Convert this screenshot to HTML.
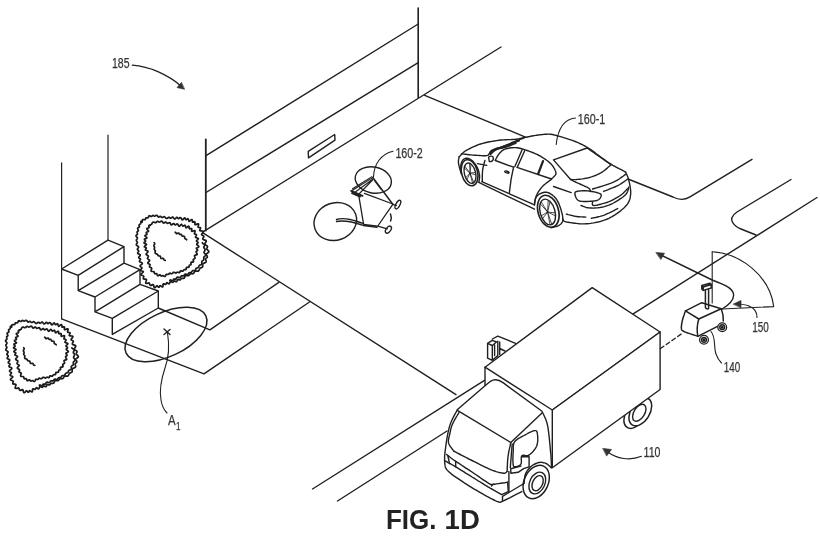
<!DOCTYPE html>
<html><head><meta charset="utf-8"><title>FIG. 1D</title>
<style>
html,body{margin:0;padding:0;background:#fff;}
body{width:820px;height:539px;overflow:hidden;font-family:"Liberation Sans",sans-serif;}
svg{display:block;}
svg .ln *{vector-effect:none;}
</style></head><body>
<svg width="820" height="539" viewBox="0 0 820 539">
<rect width="820" height="539" fill="#fff"/>
<g class="ln" fill="none" stroke="#202020" stroke-width="1.4" stroke-linecap="round" stroke-linejoin="round">
<path d="M205.8 139.4 V230.5" stroke-width="1.8"/>
<path d="M206 155.7 L418.2 24 M206 192.5 L418.2 62.6 M202.2 232.4 L501 47"/>
<path d="M418.2 8 V97.5" stroke-width="1.6"/>
<path d="M61.6 162.8 V318.8 M108 135 V240" stroke-width="1.2"/>
<path d="M308.2 151.3 L334.7 134.5 L335 140.1 L308.5 157.8 Z"/>
<path d="M424.7 95.4 L526 137.3"/>
<path d="M202.2 232.4 L456 394.6"/>
<path d="M312.5 489 L484.5 380.3"/>
<path d="M337.5 501 L447 431"/>
<path d="M632.8 314.1 L817 197.5"/>
<path d="M628 179 L673 197 Q682 201.8 690 196.8 L752 159.3"/>
<path d="M791 179.5 L737 212 Q729 217.5 733 223 Q735 226.5 741 229 L756 235"/>
<path d="M278.8 282.4 L209.9 329.9 L158.3 308"/>
<path d="M309.5 302 L204 373.8 L61.6 318.8"/>
<path d="M108.0 240.2 L124.0 246.6 L78.2 275.3 L61.6 269.0 Z M124 246.6 V263.2 L78.2 290.6 V275.3 M124 263.2 L140 269.6 L95 297 L78.2 290.6 M140 269.6 V284.4 L95 311.8 V297 M140 284.4 L158.3 291 L112.3 318.4 L95 311.8 M158.3 291 V308 L112.3 334.4 V318.4"/>
<g id="bush" stroke-width="1.7" stroke="#1a1a1a"><path d="M142.1 222.1 L142.2 221.7 L142.2 221.3 L142.3 220.8 L142.3 220.3 L142.5 219.9 L142.7 219.7 L143.1 219.5 L143.6 219.5 L144.1 219.6 L144.5 219.7 L144.9 219.6 L145.2 219.5 L145.4 219.1 L145.6 218.7 L145.7 218.3 L145.9 218.0 L146.2 217.8 L146.6 217.8 L147.1 217.8 L147.5 217.9 L147.9 217.8 L148.2 217.7 L148.4 217.3 L148.5 216.9 L148.7 216.4 L148.9 216.0 L149.2 215.8 L149.6 215.7 L150.1 215.9 L150.5 216.2 L150.9 216.4 L151.3 216.5 L151.6 216.4 L151.9 216.2 L152.2 215.9 L152.5 215.6 L152.9 215.4 L153.3 215.4 L153.6 215.6 L154.0 215.9 L154.3 216.1 L154.6 216.2 L155.0 216.1 L155.3 215.9 L155.7 215.6 L156.1 215.4 L156.5 215.3 L156.9 215.3 L157.2 215.6 L157.5 215.9 L157.7 216.3 L158.0 216.7 L158.3 217.0 L158.7 217.1 L159.0 217.0 L159.4 216.8 L159.8 216.5 L160.2 216.4 L160.6 216.4 L160.9 216.6 L161.2 216.9 L161.5 217.1 L161.8 217.4 L162.2 217.5 L162.5 217.5 L162.9 217.3 L163.3 217.1 L163.7 216.9 L164.0 216.7 L164.4 216.7 L164.7 216.8 L165.0 217.1 L165.4 217.4 L165.7 217.8 L166.0 218.1 L166.3 218.4 L166.7 218.5 L167.1 218.4 L167.4 218.3 L167.8 218.0 L168.1 217.7 L168.5 217.4 L168.9 217.3 L169.2 217.3 L169.6 217.5 L169.9 217.8 L170.2 218.1 L170.6 218.2 L170.9 218.2 L171.3 217.9 L171.7 217.6 L172.0 217.3 L172.4 217.1 L172.7 217.1 L173.1 217.3 L173.4 217.7 L173.7 218.1 L174.1 218.5 L174.4 218.9 L174.7 219.0 L175.1 218.9 L175.5 218.6 L175.8 218.2 L176.2 217.7 L176.6 217.4 L176.9 217.3 L177.3 217.5 L177.6 217.9 L177.9 218.3 L178.3 218.6 L178.6 218.6 L179.0 218.4 L179.3 218.1 L179.7 217.8 L180.1 217.6 L180.5 217.6 L180.8 217.8 L181.1 218.2 L181.4 218.7 L181.7 219.3 L182.0 219.7 L182.3 219.9 L182.7 219.8 L183.1 219.5 L183.5 219.0 L183.9 218.4 L184.3 218.0 L184.7 217.9 L185.0 218.2 L185.3 218.7 L185.6 219.2 L185.8 219.6 L186.2 219.7 L186.6 219.5 L187.0 219.2 L187.4 218.9 L187.8 218.7 L188.1 218.8 L188.4 219.3 L188.6 220.0 L188.8 220.6 L189.0 221.1 L189.2 221.3 L189.7 221.1 L190.2 220.7 L190.7 220.2 L191.3 219.7 L191.8 219.5 L192.1 219.7 L192.3 220.2 L192.4 220.9 L192.4 221.5 L192.5 222.0 L192.8 222.2 L193.3 222.1 L193.8 221.9 L194.3 221.7 L194.7 221.8 L195.0 222.1 L195.0 222.7 L194.9 223.3 L194.9 223.9 L194.9 224.4 L195.1 224.7 L195.6 224.6 L196.3 224.4 L197.0 224.1 L197.7 223.9 L198.3 223.8 L198.6 224.1 L198.6 224.6 L198.4 225.2 L198.3 225.9 L198.1 226.4 L198.1 226.9 L198.2 227.2 L198.5 227.4 L199.0 227.5 L199.5 227.5 L200.1 227.6 L200.5 227.7 L200.6 228.1 L200.5 228.6 L200.2 229.1 L199.9 229.7 L199.8 230.1 L199.8 230.5 L200.1 230.7 L200.6 230.8 L201.3 230.9 L202.0 231.0 L202.7 231.1 L203.2 231.3 L203.4 231.7 L203.3 232.1 L202.9 232.6 L202.5 233.1 L202.0 233.6 L201.7 234.1 L201.6 234.5 L201.7 234.8 L202.0 235.1 L202.4 235.3 L202.9 235.5 L203.3 235.8 L203.6 236.0 L203.8 236.4 L203.8 236.7 L203.6 237.1 L203.4 237.6 L203.1 238.0 L202.9 238.4 L202.8 238.8 L202.9 239.2 L203.2 239.5 L203.6 239.7 L204.2 239.9 L204.8 240.1 L205.3 240.2 L205.8 240.4 L206.1 240.7 L206.2 241.0 L206.2 241.4 L206.0 241.8 L205.7 242.3 L205.4 242.8 L205.1 243.3 L204.9 243.8 L204.8 244.2 L204.9 244.5 L205.2 244.8 L205.5 245.0 L206.0 245.2 L206.4 245.4 L206.8 245.6 L207.2 245.9 L207.4 246.2 L207.5 246.5 L207.5 246.9 L207.3 247.3 L207.1 247.7 L206.9 248.1 L206.8 248.5 L206.7 248.8 L206.8 249.2 L207.1 249.5 L207.4 249.8 L207.8 250.1 L208.2 250.5 L208.5 250.8 L208.7 251.2 L208.8 251.6 L208.8 251.9 L208.6 252.3 L208.2 252.6 L207.7 252.9 L207.3 253.2 L206.8 253.5 L206.5 253.8 L206.3 254.1 L206.3 254.5 L206.4 254.8 L206.6 255.2 L206.9 255.6 L207.1 256.0 L207.3 256.4 L207.3 256.8 L207.3 257.2 L207.1 257.5 L206.8 257.8 L206.4 258.0 L206.1 258.3 L205.9 258.6 L205.7 258.9 L205.6 259.2 L205.7 259.6 L205.8 260.0 L206.0 260.5 L206.1 260.9 L206.2 261.3 L206.1 261.7 L206.0 262.0 L205.7 262.3 L205.4 262.6 L205.0 262.8 L204.6 262.9 L204.1 263.1 L203.7 263.2 L203.4 263.4 L203.1 263.7 L202.9 263.9 L202.8 264.3 L202.7 264.6 L202.7 265.0 L202.7 265.5 L202.7 265.9 L202.7 266.3 L202.6 266.7 L202.4 267.0 L202.1 267.2 L201.8 267.4 L201.4 267.6 L201.1 267.7 L200.7 267.9 L200.4 268.0 L200.1 268.2 L199.8 268.5 L199.7 268.8 L199.5 269.1 L199.3 269.5 L199.2 269.8 L199.0 270.2 L198.8 270.5 L198.6 270.8 L198.3 271.0 L197.9 271.2 L197.6 271.2 L197.1 271.2 L196.7 271.2 L196.3 271.1 L195.9 271.1 L195.5 271.2 L195.2 271.3 L194.9 271.4 L194.6 271.7 L194.4 272.1 L194.2 272.4 L194.0 272.8 L193.7 273.1 L193.5 273.4 L193.2 273.6 L192.9 273.7 L192.5 273.8 L192.1 273.8 L191.7 273.7 L191.3 273.7 L191.0 273.7 L190.6 273.8 L190.3 274.0 L190.0 274.2 L189.8 274.5 L189.5 274.8 L189.3 275.1 L189.0 275.3 L188.7 275.5 L188.4 275.7 L188.0 275.7 L187.6 275.7 L187.2 275.6 L186.8 275.6 L186.4 275.5 L186.0 275.6 L185.7 275.7 L185.4 275.9 L185.1 276.2 L184.9 276.6 L184.8 277.0 L184.6 277.4 L184.4 277.8 L184.1 278.1 L183.9 278.3 L183.5 278.4 L183.1 278.4 L182.7 278.4 L182.3 278.4 L181.9 278.3 L181.5 278.4 L181.2 278.5 L181.0 278.8 L180.8 279.2 L180.5 279.5 L180.3 279.8 L180.0 280.0 L179.6 280.0 L179.2 279.9 L178.7 279.7 L178.3 279.5 L177.9 279.4 L177.6 279.6 L177.3 280.0 L177.2 280.5 L177.0 281.0 L176.7 281.5 L176.4 281.7 L176.0 281.7 L175.6 281.5 L175.2 281.2 L174.8 281.0 L174.4 280.9 L174.0 281.1 L173.8 281.3 L173.5 281.7 L173.2 282.0 L172.9 282.3 L172.6 282.3 L172.2 282.2 L171.8 282.0 L171.3 281.7 L170.9 281.5 L170.5 281.4 L170.2 281.6 L170.0 282.1 L169.8 282.7 L169.6 283.3 L169.3 283.7 L169.0 283.9 L168.6 283.8 L168.2 283.5 L167.7 283.1 L167.3 282.8 L166.8 282.7 L166.5 282.9 L166.3 283.3 L166.1 283.8 L165.9 284.2 L165.6 284.4 L165.2 284.4 L164.8 284.3 L164.3 284.1 L163.8 283.9 L163.4 283.9 L163.1 284.2 L163.0 284.7 L163.0 285.4 L163.0 286.1 L162.9 286.6 L162.6 286.9 L162.1 286.9 L161.6 286.5 L161.0 286.1 L160.5 285.7 L160.1 285.6 L159.9 285.8 L159.6 286.2 L159.4 286.8 L159.1 287.2 L158.7 287.3 L158.4 287.1 L158.0 286.7 L157.7 286.3 L157.4 285.9 L157.1 285.8 L156.7 285.9 L156.3 286.3 L155.9 286.8 L155.4 287.3 L154.9 287.7 L154.6 287.7 L154.2 287.5 L154.0 286.9 L153.8 286.3 L153.7 285.6 L153.5 285.0 L153.3 284.7 L152.9 284.5 L152.6 284.6 L152.1 284.9 L151.6 285.1 L151.1 285.4 L150.7 285.4 L150.3 285.4 L150.1 285.1 L149.9 284.7 L149.7 284.3 L149.6 283.8 L149.5 283.3 L149.3 283.1 L148.9 282.9 L148.5 283.0 L147.9 283.2 L147.3 283.3 L146.7 283.5 L146.2 283.4 L145.9 283.3 L145.7 282.9 L145.7 282.3 L145.9 281.7 L146.1 281.0 L146.3 280.4 L146.5 279.9 L146.4 279.5 L146.2 279.3 L145.8 279.2 L145.3 279.1 L144.6 279.1 L144.0 279.1 L143.6 278.9 L143.3 278.7 L143.3 278.3 L143.4 277.8 L143.5 277.3 L143.7 276.9 L143.8 276.4 L143.7 276.1 L143.4 275.9 L143.0 275.7 L142.5 275.5 L141.9 275.3 L141.4 275.1 L141.0 274.8 L140.9 274.5 L141.1 274.0 L141.5 273.5 L142.1 273.1 L142.7 272.6 L143.1 272.2 L143.3 271.8 L143.1 271.5 L142.6 271.2 L142.0 271.0 L141.4 270.7 L140.9 270.4 L140.6 270.1 L140.7 269.7 L141.0 269.3 L141.3 268.9 L141.7 268.6 L141.9 268.2 L141.9 267.8 L141.7 267.5 L141.4 267.2 L140.9 266.9 L140.5 266.6 L140.1 266.2 L140.1 265.9 L140.2 265.5 L140.6 265.1 L141.2 264.7 L141.7 264.3 L142.1 263.9 L142.3 263.5 L142.2 263.1 L141.9 262.8 L141.4 262.5 L140.8 262.3 L140.2 262.1 L139.8 261.8 L139.5 261.5 L139.5 261.2 L139.6 260.8 L139.9 260.3 L140.2 259.9 L140.4 259.5 L140.5 259.1 L140.3 258.8 L139.9 258.5 L139.5 258.3 L139.0 258.0 L138.8 257.7 L138.7 257.4 L138.9 257.0 L139.3 256.5 L139.7 256.1 L140.1 255.6 L140.2 255.2 L140.2 254.9 L139.9 254.6 L139.4 254.4 L138.9 254.1 L138.3 253.9 L137.9 253.6 L137.7 253.3 L137.6 252.9 L137.9 252.5 L138.2 252.1 L138.5 251.7 L138.7 251.3 L138.7 251.0 L138.5 250.6 L138.2 250.3 L137.8 250.0 L137.5 249.7 L137.4 249.4 L137.4 249.0 L137.7 248.6 L138.0 248.2 L138.3 247.8 L138.5 247.4 L138.6 247.1 L138.5 246.7 L138.2 246.4 L137.8 246.1 L137.4 245.9 L137.0 245.6 L136.6 245.3 L136.4 244.9 L136.3 244.6 L136.4 244.2 L136.6 243.8 L136.9 243.4 L137.2 243.1 L137.3 242.7 L137.4 242.3 L137.3 242.0 L137.1 241.7 L136.9 241.3 L136.6 241.0 L136.4 240.7 L136.4 240.3 L136.4 240.0 L136.6 239.6 L136.9 239.2 L137.1 238.9 L137.3 238.5 L137.4 238.2 L137.4 237.9 L137.2 237.5 L136.9 237.1 L136.5 236.8 L136.2 236.4 L136.1 236.0 L136.0 235.7 L136.2 235.3 L136.5 235.0 L136.9 234.7 L137.3 234.4 L137.5 234.1 L137.5 233.7 L137.4 233.4 L137.3 233.0 L137.1 232.6 L137.1 232.2 L137.1 231.9 L137.4 231.6 L137.7 231.3 L138.1 231.0 L138.3 230.7 L138.4 230.4 L138.2 230.0 L138.0 229.6 L137.8 229.1 L137.6 228.7 L137.6 228.3 L137.8 228.0 L138.2 227.8 L138.6 227.6 L139.0 227.3 L139.3 227.0 L139.4 226.7 L139.4 226.3 L139.2 225.9 L139.1 225.5 L139.1 225.1 L139.2 224.8 L139.4 224.5 L139.8 224.3 L140.2 224.1 L140.5 223.9 L140.7 223.6 L140.8 223.3 L140.8 222.9 L140.8 222.4 L140.8 221.9 L140.9 221.5 L141.1 221.2 Z" fill="#fff"/><path d="M149.9 224.9 L150.3 224.8 L150.7 224.7 L151.0 224.6 L151.3 224.4 L151.6 224.2 L151.8 223.9 L152.0 223.5 L152.1 223.1 L152.3 222.8 L152.6 222.4 L152.9 222.2 L153.2 222.1 L153.6 222.1 L154.1 222.2 L154.5 222.4 L154.9 222.6 L155.3 222.7 L155.6 222.7 L156.0 222.6 L156.3 222.4 L156.5 222.0 L156.9 221.7 L157.2 221.5 L157.5 221.4 L157.9 221.4 L158.3 221.6 L158.6 221.8 L159.0 222.0 L159.3 222.1 L159.6 222.1 L160.0 221.9 L160.4 221.7 L160.7 221.4 L161.1 221.2 L161.5 221.1 L161.9 221.2 L162.2 221.4 L162.5 221.8 L162.8 222.3 L163.0 222.7 L163.3 223.0 L163.7 223.1 L164.0 223.0 L164.4 222.8 L164.8 222.5 L165.3 222.2 L165.6 222.1 L166.0 222.1 L166.3 222.4 L166.6 222.7 L166.9 223.0 L167.2 223.3 L167.5 223.4 L167.9 223.3 L168.3 223.1 L168.7 222.9 L169.1 222.7 L169.5 222.6 L169.8 222.7 L170.1 223.0 L170.4 223.5 L170.6 224.0 L170.9 224.5 L171.2 224.8 L171.5 224.9 L171.9 224.7 L172.3 224.4 L172.8 224.0 L173.2 223.7 L173.6 223.5 L173.9 223.6 L174.2 223.9 L174.5 224.3 L174.8 224.7 L175.1 224.9 L175.5 224.9 L175.8 224.7 L176.2 224.4 L176.6 224.1 L177.0 223.9 L177.3 223.9 L177.7 224.2 L178.0 224.6 L178.3 225.1 L178.5 225.6 L178.8 226.1 L179.2 226.3 L179.5 226.2 L179.9 225.8 L180.4 225.2 L180.8 224.7 L181.2 224.4 L181.6 224.4 L181.9 224.6 L182.1 225.1 L182.4 225.6 L182.7 226.0 L183.0 226.1 L183.4 226.0 L183.8 225.8 L184.3 225.4 L184.7 225.2 L185.0 225.3 L185.3 225.7 L185.5 226.3 L185.6 227.0 L185.8 227.5 L186.0 227.8 L186.4 227.7 L186.9 227.4 L187.5 226.9 L188.1 226.4 L188.6 226.2 L188.9 226.4 L189.1 226.9 L189.1 227.6 L189.2 228.2 L189.3 228.6 L189.6 228.8 L190.0 228.8 L190.6 228.6 L191.1 228.5 L191.5 228.5 L191.7 228.8 L191.8 229.3 L191.7 230.0 L191.6 230.7 L191.6 231.1 L191.9 231.3 L192.4 231.2 L193.1 231.0 L193.8 230.8 L194.5 230.7 L195.0 230.8 L195.1 231.2 L195.0 231.7 L194.8 232.3 L194.5 232.9 L194.4 233.4 L194.4 233.8 L194.7 234.0 L195.2 234.1 L195.7 234.3 L196.2 234.5 L196.4 234.7 L196.5 235.1 L196.3 235.5 L196.1 236.0 L195.7 236.5 L195.5 236.9 L195.5 237.3 L195.8 237.5 L196.3 237.7 L196.9 237.9 L197.6 238.1 L198.2 238.4 L198.4 238.7 L198.2 239.1 L197.8 239.6 L197.2 240.0 L196.8 240.4 L196.5 240.8 L196.5 241.2 L196.8 241.5 L197.2 241.8 L197.7 242.1 L198.0 242.4 L198.0 242.8 L197.8 243.1 L197.4 243.5 L197.0 243.9 L196.7 244.2 L196.8 244.6 L197.0 244.9 L197.5 245.3 L198.1 245.6 L198.5 246.0 L198.8 246.4 L198.8 246.7 L198.5 247.1 L197.9 247.4 L197.3 247.7 L196.8 248.0 L196.4 248.3 L196.5 248.6 L196.7 249.0 L197.1 249.4 L197.4 249.8 L197.6 250.2 L197.5 250.6 L197.2 250.8 L196.7 251.1 L196.4 251.4 L196.1 251.7 L196.1 252.0 L196.2 252.4 L196.5 252.9 L196.9 253.3 L197.1 253.8 L197.2 254.2 L197.1 254.5 L196.7 254.8 L196.1 254.9 L195.5 255.1 L195.0 255.3 L194.6 255.5 L194.5 255.8 L194.5 256.2 L194.7 256.6 L194.9 257.1 L195.0 257.5 L195.1 258.0 L194.9 258.3 L194.7 258.6 L194.3 258.8 L193.9 259.0 L193.6 259.2 L193.3 259.4 L193.2 259.7 L193.2 260.2 L193.3 260.6 L193.5 261.1 L193.5 261.6 L193.3 261.9 L193.0 262.1 L192.4 262.1 L191.8 262.2 L191.3 262.2 L190.9 262.4 L190.8 262.7 L190.9 263.2 L191.0 263.7 L191.1 264.2 L191.0 264.6 L190.7 264.8 L190.3 265.0 L189.9 265.0 L189.5 265.2 L189.3 265.4 L189.2 265.8 L189.1 266.3 L189.1 266.7 L189.0 267.1 L188.7 267.3 L188.3 267.4 L187.7 267.3 L187.2 267.3 L186.8 267.3 L186.5 267.5 L186.3 267.8 L186.2 268.3 L186.2 268.8 L186.1 269.2 L185.9 269.5 L185.5 269.7 L185.1 269.7 L184.7 269.7 L184.3 269.7 L183.9 269.8 L183.7 270.0 L183.5 270.3 L183.3 270.7 L183.0 271.1 L182.7 271.2 L182.3 271.2 L181.9 271.1 L181.4 270.9 L181.0 270.8 L180.6 270.8 L180.4 271.1 L180.1 271.5 L179.9 271.9 L179.7 272.3 L179.4 272.6 L179.0 272.6 L178.6 272.5 L178.2 272.3 L177.8 272.2 L177.5 272.2 L177.2 272.3 L176.8 272.5 L176.5 272.7 L176.2 273.0 L175.9 273.1 L175.5 273.0 L175.1 272.8 L174.7 272.6 L174.4 272.4 L174.0 272.3 L173.7 272.3 L173.3 272.4 L173.0 272.7 L172.7 273.1 L172.4 273.4 L172.1 273.6 L171.7 273.8 L171.4 273.7 L171.0 273.6 L170.6 273.4 L170.2 273.2 L169.8 273.2 L169.5 273.3 L169.2 273.5 L168.9 273.9 L168.7 274.2 L168.4 274.4 L168.1 274.5 L167.7 274.5 L167.3 274.4 L166.8 274.3 L166.4 274.3 L166.1 274.5 L165.9 274.9 L165.8 275.3 L165.6 275.8 L165.3 276.2 L165.0 276.5 L164.6 276.5 L164.2 276.3 L163.8 276.0 L163.4 275.7 L163.1 275.5 L162.8 275.5 L162.4 275.7 L162.0 275.9 L161.6 276.1 L161.3 276.1 L161.0 275.9 L160.7 275.5 L160.4 275.2 L160.1 274.9 L159.8 274.8 L159.4 275.0 L158.9 275.3 L158.5 275.6 L158.0 275.8 L157.7 275.7 L157.4 275.4 L157.2 274.9 L157.0 274.3 L156.9 273.9 L156.6 273.6 L156.3 273.6 L155.8 273.7 L155.4 273.8 L155.0 273.8 L154.6 273.6 L154.5 273.2 L154.3 272.8 L154.3 272.4 L154.2 272.0 L154.0 271.7 L153.6 271.6 L153.2 271.5 L152.7 271.5 L152.1 271.5 L151.7 271.4 L151.3 271.2 L151.1 270.9 L151.1 270.5 L151.2 270.0 L151.4 269.4 L151.6 268.9 L151.7 268.5 L151.6 268.1 L151.4 267.8 L151.1 267.6 L150.6 267.5 L150.2 267.3 L149.8 267.1 L149.5 266.8 L149.5 266.4 L149.6 266.0 L149.8 265.6 L150.0 265.1 L150.1 264.8 L149.9 264.5 L149.5 264.2 L149.1 264.0 L148.5 263.7 L148.1 263.5 L147.8 263.1 L147.8 262.8 L148.1 262.4 L148.5 261.9 L149.0 261.5 L149.4 261.1 L149.6 260.7 L149.6 260.3 L149.4 260.0 L149.0 259.7 L148.5 259.4 L148.1 259.1 L147.7 258.8 L147.5 258.5 L147.5 258.2 L147.7 257.8 L147.9 257.4 L148.1 257.0 L148.3 256.6 L148.4 256.2 L148.3 255.9 L147.9 255.6 L147.5 255.3 L147.0 255.1 L146.6 254.8 L146.3 254.6 L146.1 254.2 L146.2 253.9 L146.5 253.4 L146.9 253.0 L147.4 252.5 L147.8 252.0 L148.0 251.6 L148.0 251.2 L147.6 251.0 L147.1 250.7 L146.5 250.5 L145.9 250.3 L145.5 250.1 L145.3 249.8 L145.5 249.4 L145.8 248.9 L146.2 248.5 L146.3 248.1 L146.2 247.8 L145.7 247.5 L145.2 247.3 L144.6 247.0 L144.3 246.7 L144.5 246.3 L144.9 245.9 L145.6 245.4 L146.2 245.0 L146.5 244.6 L146.4 244.3 L146.0 244.0 L145.3 243.7 L144.6 243.4 L144.1 243.0 L144.0 242.7 L144.3 242.3 L144.8 242.0 L145.3 241.6 L145.6 241.3 L145.6 241.0 L145.3 240.6 L144.9 240.2 L144.5 239.8 L144.4 239.4 L144.5 239.1 L145.1 238.8 L145.8 238.6 L146.5 238.3 L146.9 238.1 L146.9 237.7 L146.5 237.3 L146.0 236.8 L145.4 236.3 L145.0 235.9 L145.0 235.5 L145.4 235.2 L145.9 235.0 L146.5 234.8 L146.9 234.5 L147.0 234.2 L146.8 233.8 L146.5 233.3 L146.2 232.9 L146.2 232.5 L146.4 232.2 L146.9 232.0 L147.6 231.8 L148.1 231.6 L148.5 231.3 L148.5 231.0 L148.3 230.6 L147.8 230.1 L147.3 229.6 L146.9 229.1 L146.8 228.7 L147.1 228.4 L147.6 228.2 L148.2 228.0 L148.8 227.9 L149.0 227.6 L149.1 227.3 L149.0 226.8 L148.8 226.4 L148.8 225.9 L148.9 225.5 L149.3 225.3 L149.8 225.3 L150.3 225.3 Z M202.4 242.7 L202.5 243.1 L202.8 243.4 L203.2 243.7 L203.8 243.9 L204.2 244.2 L204.6 244.5 L204.8 244.8 L204.8 245.2 L204.7 245.5 L204.4 245.9 L204.2 246.3 L203.9 246.7 L203.8 247.1 L203.8 247.5 L203.9 247.8 L204.2 248.1 L204.4 248.4 L204.7 248.7 L204.9 249.1 L205.0 249.4 L205.1 249.8 L205.0 250.1 L204.9 250.5 L204.7 250.9 L204.5 251.2 L204.3 251.6 L204.1 252.0 L204.1 252.3 L204.1 252.6 L204.3 253.0 L204.6 253.3 L204.9 253.7 L205.2 254.0 L205.4 254.4 L205.6 254.8 L205.6 255.2 L205.5 255.5 L205.2 255.8 L204.9 256.1 L204.5 256.4 L204.2 256.7 L204.0 257.0 L203.8 257.3 L203.8 257.7 L203.8 258.0 L203.9 258.4 L203.9 258.8 L203.9 259.2 L203.8 259.5 L203.7 259.8 L203.4 260.1 L203.1 260.4 L202.8 260.6 L202.4 260.8 L202.2 261.0 L202.0 261.3 L201.8 261.7 L201.8 262.0 L201.8 262.4 L201.8 262.9 L201.8 263.3 L201.8 263.7 L201.7 264.1 L201.5 264.4 L201.2 264.6 L200.9 264.8 L200.5 264.9 L200.0 265.0 L199.7 265.2 L199.4 265.4 L199.1 265.6 L199.0 265.9 L198.9 266.3 L198.8 266.7 L198.6 267.0 L198.4 267.3 L198.1 267.6 L197.8 267.7 L197.5 267.9 L197.1 267.9 L196.7 268.1 L196.4 268.2 L196.1 268.4 L195.9 268.7 L195.8 269.1 L195.6 269.5 L195.5 269.9 L195.3 270.2 L195.0 270.5 L194.7 270.6 L194.3 270.7 L193.9 270.7 L193.4 270.6 L193.0 270.6 L192.7 270.7 L192.4 270.9 L192.1 271.1 L191.9 271.5 L191.7 271.8 L191.5 272.1 L191.2 272.4 L190.9 272.5 L190.5 272.6 L190.1 272.6 L189.8 272.6 L189.4 272.7 L189.1 272.8 L188.8 273.0 L188.6 273.3 L188.3 273.7 L188.1 274.0 L187.8 274.3 L187.5 274.5 L187.2 274.5 L186.7 274.5 L186.3 274.3 L185.9 274.2 L185.5 274.2 L185.1 274.2 L184.8 274.3 L184.5 274.6 L184.3 274.9 L184.1 275.3 L183.8 275.6 L183.5 275.8 L183.2 275.8 L182.8 275.8 L182.4 275.8 L182.0 275.8 L181.6 275.8 L181.3 276.0 L181.0 276.2 L180.8 276.6 L180.6 276.9 L180.3 277.2 L180.0 277.5 L179.7 277.6 L179.3 277.6 L178.9 277.5 L178.5 277.3 L178.0 277.2 L177.6 277.1 L177.3 277.2 L177.0 277.4 L176.7 277.7 L176.5 278.1 L176.3 278.5 L176.1 278.9 L175.8 279.1 L175.4 279.2 L175.1 279.1 L174.6 279.1 L174.2 279.0 L173.9 279.0 L173.6 279.2 L173.3 279.6 L173.1 280.0 L172.9 280.3 L172.6 280.6 L172.3 280.7 L171.8 280.5 L171.4 280.3 L170.9 280.1 L170.5 279.9 L170.1 280.0 L169.9 280.3 M175.2 232.2 L175.5 232.4 L175.8 232.7 L176.0 233.1 L176.3 233.5 L176.6 233.7 L176.9 233.7 L177.4 233.5 L177.8 233.2 L178.3 233.0 L178.6 233.0 L178.9 233.2 L179.1 233.6 L179.4 234.1 L179.6 234.4 L179.9 234.5 L180.3 234.4 L180.8 234.4 L181.1 234.4 L181.5 234.6 L181.7 234.9 L181.8 235.3 L182.0 235.7 L182.1 236.0 L182.5 236.2 L182.9 236.2 L183.4 236.2 L183.8 236.2 L184.2 236.3 L184.4 236.6 L184.6 237.0 L184.7 237.4 L184.7 237.8 L184.8 238.2 L184.9 238.5 L185.2 238.8 L185.5 238.9 L185.9 239.1 L186.3 239.2 L186.5 239.5 L186.7 239.8 M154.2 242.6 L154.4 242.9 L154.6 243.3 L154.7 243.6 L154.7 244.0 L154.5 244.3 L154.3 244.7 L154.0 245.0 L153.9 245.4 L153.9 245.7 L153.9 246.1 L154.1 246.4 L154.3 246.8 L154.5 247.1 L154.6 247.4 L154.6 247.8 L154.5 248.2 L154.3 248.5 L154.2 248.9 L154.2 249.2 L154.4 249.6 L154.6 249.9 L154.8 250.2 L155.1 250.5 L155.3 250.8 L155.3 251.1 L155.3 251.5 L155.2 251.9 L155.2 252.3 L155.1 252.7 L155.2 253.1 L155.4 253.4 L155.7 253.7 L156.1 253.8 L156.5 253.9 L156.9 254.0 L157.3 254.2 L157.5 254.4 L157.7 254.7 L157.9 255.0 L158.0 255.4 L158.3 255.7 L158.6 255.9 L158.9 255.9 L159.4 256.0 L159.8 256.0 L160.1 256.1 L160.4 256.4 L160.5 256.8 L160.6 257.2 L160.7 257.7 L160.8 258.1 L161.1 258.4 L161.4 258.5 L161.9 258.5 L162.3 258.4 L162.8 258.4 L163.2 258.4 L163.4 258.6 L163.7 258.9 L163.8 259.3 L164.0 259.7 L164.2 260.0 L164.5 260.2 L164.9 260.3 L165.3 260.3"/></g>
<use href="#bush" transform="translate(-130.5 105)"/>
<ellipse cx="166" cy="334.5" rx="44" ry="22" transform="rotate(-25 166 334.5)" stroke-width="1.5"/>
<path d="M164 329 L170 334.5 M170 329.5 L164 334.5"/>
<path d="M167.5 333 C169.5 345 169 357 165 368 C161 380 159.5 392 161 400 C162 406 164 410 167 413" stroke-width="1.1"/>
<ellipse cx="373.3" cy="180" rx="18.3" ry="13" transform="rotate(12 373.3 180)"/>
<ellipse cx="335.3" cy="221.5" rx="21.6" ry="18.6" transform="rotate(-20 335.3 221.5)"/>
<path d="M373 177.8 L392.8 204.3 M374.6 180.5 L381 189" stroke-width="1.5"/>
<path d="M372.7 177.6 L351.4 191 M372 176.6 L352.5 188.8 M373 179 L354 193 M372.6 180 L358.5 194.5" stroke-width="1.1"/>
<path d="M351.2 190.8 L362.5 195.8 M352 193.2 L360 196.6" stroke-width="1.9"/>
<path d="M358.6 194.6 L363.6 224.4 M364.4 193.4 L392.8 204 M392.8 204.3 L377.8 226 M363.6 224.4 L377.8 226.2 L387.3 228.8 M363.4 225.6 L377 227.4" stroke-width="1.3"/>
<path d="M336.5 219.5 C345 217 355 220.5 363.6 223.6 M336.5 221.5 C345 219.5 355 222.6 363.2 225.4"/>
<ellipse cx="397.9" cy="204.6" rx="2" ry="4.7" transform="rotate(28 397.9 204.6)"/>
<path d="M392.8 204.3 L396.3 205.6"/>
<ellipse cx="388.4" cy="229.6" rx="2.3" ry="4" transform="rotate(35 388.4 229.6)"/>
<path d="M390.5 214 C391.5 216.5 391.4 219 390.6 221" stroke-width="1.5"/>
<path d="M393 151.2 C381 154 374 164 373.5 177" stroke-width="1.1"/>
<path d="M459.2 156.8 L459.7 156.3 L460.2 155.7 L460.9 155.0 L461.6 154.2 L462.5 153.3 L463.5 152.4 L464.6 151.5 L465.9 150.7 L467.3 149.9 L468.9 149.0 L470.7 148.1 L472.5 147.2 L474.5 146.3 L476.5 145.5 L478.5 144.7 L480.6 144.0 L482.7 143.4 L485.0 142.8 L487.3 142.3 L489.6 141.8 L492.0 141.4 L494.4 141.0 L496.7 140.6 L499.0 140.3 L501.2 140.0 L503.5 139.9 L505.8 139.7 L508.1 139.6 L510.3 139.6 L512.4 139.5 L514.3 139.4 L516.1 139.2 L517.7 139.0 L519.1 138.8 L520.3 138.5 L521.5 138.2 L522.5 138.0 L523.6 137.7 L524.7 137.4 L525.9 137.2 L527.1 137.0 L528.4 136.7 L529.6 136.5 L530.8 136.2 L532.1 136.0 L533.3 135.8 L534.5 135.6 L535.7 135.4 L536.9 135.2 L538.1 135.0 L539.3 134.9 L540.5 134.7 L541.7 134.6 L542.8 134.5 L543.9 134.4 L545.0 134.3 L546.0 134.2 L546.8 134.2 L547.6 134.1 L548.4 134.1 L549.2 134.1 L550.1 134.2 L551.1 134.3 L552.2 134.5 L553.5 134.8 L554.9 135.1 L556.4 135.5 L558.0 136.0 L559.7 136.4 L561.3 136.9 L562.9 137.4 L564.5 137.9 L566.0 138.4 L567.6 138.9 L569.1 139.4 L570.7 139.9 L572.2 140.4 L573.7 140.9 L575.2 141.5 L576.7 142.1 L578.1 142.7 L579.5 143.3 L580.9 144.0 L582.3 144.6 L583.6 145.3 L585.0 146.0 L586.3 146.8 L587.7 147.6 L589.1 148.5 L590.4 149.4 L591.8 150.4 L593.2 151.4 L594.6 152.4 L595.9 153.5 L597.4 154.6 L598.8 155.6 L600.3 156.7 L601.7 157.7 L603.2 158.8 L604.7 159.9 L606.2 161.0 L607.7 162.1 L609.3 163.2 L611.0 164.2 L612.8 165.3 L614.8 166.4 L617.0 167.6 L619.1 168.7 L621.2 169.7 L623.0 170.7 L624.5 171.5 L625.7 172.1"/>
<path d="M625.7 172.4 L625.9 172.7 L626.1 173.1 L626.3 173.6 L626.6 174.1 L626.9 174.8 L627.2 175.4 L627.5 176.2 L627.8 177.0 L628.1 177.9 L628.4 178.9 L628.7 180.0 L629.0 181.2 L629.3 182.4 L629.6 183.6 L629.8 184.8 L630.0 185.9 L630.2 187.0 L630.3 188.1 L630.5 189.2 L630.6 190.2 L630.7 191.3 L630.7 192.4 L630.7 193.4 L630.6 194.5 L630.5 195.6 L630.3 196.6 L630.2 197.7 L629.9 198.8 L629.6 199.8 L629.2 200.9 L628.7 201.9 L628.1 203.0 L627.4 204.1 L626.5 205.2 L625.5 206.3 L624.5 207.4 L623.3 208.5 L622.1 209.5 L620.9 210.6 L619.6 211.6 L618.2 212.6 L616.8 213.6 L615.3 214.6 L613.7 215.6 L612.1 216.6 L610.5 217.4 L608.9 218.3 L607.3 219.0 L605.8 219.6 L604.2 220.2 L602.7 220.7 L601.2 221.2 L599.7 221.6 L598.2 222.0 L596.6 222.3 L595.1 222.6 L593.6 222.9 L592.0 223.1 L590.5 223.4 L589.0 223.6 L587.4 223.7 L585.9 223.8 L584.3 223.9 L582.8 223.9 L581.2 223.9 L579.6 223.8 L577.9 223.6 L576.3 223.4 L574.7 223.2 L573.2 223.0 L571.8 222.8 L570.6 222.6 L569.5 222.5 L568.5 222.3 L567.7 222.2 L566.9 222.1 L566.2 221.9 L565.6 221.8 L565.0 221.6 L564.5 221.4 L564.0 221.1 L563.7 220.8 L563.4 220.5 L563.2 220.1 L563.0 219.8 L562.8 219.5 L562.7 219.2 L562.6 219.0"/>
<path d="M459.2 156.8 L459.1 157.2 L459.0 157.6 L458.9 158.2 L458.7 158.9 L458.6 159.5 L458.5 160.3 L458.4 161.0 L458.4 161.7 L458.4 162.4 L458.5 163.2 L458.7 164.0 L458.8 164.8 L459.0 165.6 L459.2 166.4 L459.4 167.2 L459.6 168.0 L459.8 168.8 L460.1 169.7 L460.3 170.5 L460.6 171.4 L460.9 172.2 L461.1 172.9 L461.3 173.5 L461.5 174.0"/>
<path d="M461.5 153.8 L462.5 153.9 L463.9 154.1 L465.5 154.3 L467.2 154.5 L469.1 154.7 L471.0 154.9 L472.8 155.1 L474.5 155.2 L476.1 155.3 L477.8 155.4 L479.5 155.5 L481.2 155.6 L482.8 155.7 L484.3 155.7 L485.6 155.7 L486.7 155.6 L487.5 155.4 L488.1 155.2 L488.4 154.9 L488.7 154.6 L488.9 154.3 L489.0 153.9 L489.2 153.6 L489.5 153.2 L489.8 152.9 L489.9 152.5 L490.1 152.2 L490.2 151.8 L490.5 151.4 L490.8 151.0 L491.4 150.6 L492.2 150.1 L493.3 149.6 L494.7 149.1 L496.3 148.5 L498.1 147.9 L499.9 147.4 L501.7 146.8 L503.4 146.2 L505.0 145.6 L506.5 145.0 L507.9 144.4 L509.4 143.8 L510.8 143.2 L512.2 142.5 L513.5 142.0 L514.8 141.4 L516.0 140.9 L517.2 140.4 L518.4 140.0 L519.6 139.6 L520.7 139.2 L521.7 138.8 L522.6 138.5 L523.4 138.2 L524.0 138.0"/>
<path d="M490.4 154.5 L490.8 154.1 L491.4 153.6 L492.1 152.9 L492.8 152.2 L493.7 151.5 L494.6 150.8 L495.5 150.1 L496.5 149.6 L497.5 149.2 L498.7 148.8 L499.9 148.5 L501.2 148.2 L502.5 148.0 L503.8 147.7 L505.1 147.4 L506.3 147.0 L507.6 146.6 L509.0 146.0 L510.4 145.5 L511.8 144.9 L513.1 144.4 L514.3 143.9 L515.3 143.5 L516.0 143.2"/>
<path d="M490.2 153.4 L490.4 153.2 L490.6 152.8 L490.8 152.5 L491.1 152.0 L491.5 151.6 L492.0 151.1 L492.7 150.7 L493.5 150.2 L494.5 149.7 L495.7 149.3 L497.1 148.8 L498.6 148.3 L500.1 147.9 L501.8 147.3 L503.4 146.8 L505.0 146.2 L506.7 145.5 L508.7 144.8 L510.7 144.0 L512.7 143.1 L514.7 142.4 L516.4 141.6 L517.9 141.0 L519.0 140.6" stroke-width="2"/>
<path d="M495.3 160.3 L495.5 159.9 L495.8 159.3 L496.2 158.5 L496.6 157.8 L497.0 156.9 L497.5 156.1 L498.0 155.3 L498.5 154.6 L499.0 153.9 L499.6 153.2 L500.2 152.5 L500.8 151.9 L501.5 151.2 L502.2 150.6 L503.0 150.1 L503.9 149.6 L504.9 149.2 L506.0 148.8 L507.3 148.5 L508.5 148.2 L509.9 148.0 L511.2 147.8 L512.4 147.7 L513.6 147.6 L514.7 147.6 L515.7 147.6 L516.7 147.7 L517.7 147.8 L518.7 148.0 L519.7 148.2 L520.9 148.5 L522.2 148.9 L523.7 149.3 L525.3 149.9 L527.1 150.5 L529.0 151.1 L530.8 151.8 L532.6 152.5 L534.2 153.2 L535.7 153.8 L537.0 154.4 L538.2 155.0 L539.4 155.6 L540.4 156.2 L541.4 156.8 L542.4 157.4 L543.3 158.0 L544.2 158.6 L545.1 159.2 L545.9 159.7 L546.7 160.3 L547.4 160.8 L548.1 161.3 L548.7 161.9 L549.4 162.4 L550.0 163.0 L550.6 163.6 L551.2 164.2 L551.7 164.8 L552.2 165.4 L552.7 166.0 L553.2 166.7 L553.6 167.3 L554.0 168.0 L554.4 168.7 L554.8 169.5 L555.1 170.2 L555.5 171.0 L555.7 171.8 L555.9 172.6 L556.0 173.3 L555.9 174.0 L555.6 174.7 L555.1 175.4 L554.5 176.1 L553.8 176.8 L553.1 177.5 L552.4 178.0 L551.9 178.5 L551.5 178.9"/>
<path d="M495.3 160.5 L513.6 167.2 M517 167.4 L551.5 179"/>
<path d="M522.2 149.5 L514.9 166.6 M524.9 150.3 L517.3 167.2"/>
<path d="M543 161.1 L538.1 174" stroke-width="2.2"/>
<path d="M484.9 160.5 L484.7 161.2 L484.4 162.2 L484.1 163.4 L483.8 164.7 L483.4 166.1 L483.1 167.5 L482.8 168.9 L482.6 170.3 L482.5 171.7 L482.4 173.3 L482.3 174.9 L482.3 176.6 L482.3 178.1 L482.3 179.5 L482.3 180.7 L482.3 181.6"/>
<path d="M513.6 167.2 L513.4 168.1 L513.2 169.3 L512.8 170.6 L512.5 172.2 L512.2 173.8 L511.8 175.5 L511.5 177.3 L511.2 178.9 L510.9 180.6 L510.7 182.5 L510.4 184.6 L510.1 186.6 L509.9 188.5 L509.7 190.3 L509.5 191.7 L509.4 192.8"/>
<path d="M551.5 179.3 L550.8 179.8 L549.9 180.4 L548.8 181.2 L547.6 182.1 L546.4 183.0 L545.2 184.0 L544.0 184.9 L543.0 185.9 L542.1 186.9 L541.2 187.9 L540.4 189.0 L539.6 190.1 L538.8 191.2 L538.1 192.3 L537.5 193.4 L536.9 194.5 L536.4 195.6 L536.0 196.8 L535.6 198.1 L535.3 199.3 L535.1 200.4 L534.8 201.5 L534.7 202.3 L534.5 203.0"/>
<path d="M481.8 181.6 L534.5 204.9 M478.2 182.2 L534.5 209.2" stroke-width="1.3"/>
<ellipse cx="469.6" cy="172.7" rx="8" ry="13.3" transform="rotate(-14 469.6 172.7)" stroke-width="1.6"/>
<ellipse cx="470" cy="173.2" rx="5.6" ry="10.4" transform="rotate(-14 470 173.2)"/>
<path d="M470 173.2 L475.4 172.4 M470 173.2 L475.7 174.8 M470 173.2 L473.7 182.2 M470 173.2 L472.5 182.9 M470 173.2 L466.9 179.6 M470 173.2 L465.8 177.6 M470 173.2 L464.4 168.1 M470 173.2 L464.9 166.3 M470 173.2 L469.6 163.7 M470 173.2 L471.0 164.5" stroke-width="0.8"/>
<path d="M461.5 174.0 L461.4 173.4 L461.3 172.5 L461.2 171.5 L461.0 170.3 L460.9 169.2 L460.8 168.0 L460.8 166.9 L460.8 166.0 L460.9 165.2 L461.0 164.4 L461.2 163.6 L461.4 162.9 L461.6 162.2 L461.9 161.6 L462.2 161.0 L462.5 160.5 L462.9 160.0 L463.3 159.6 L463.8 159.2 L464.3 158.9 L464.8 158.6 L465.3 158.4 L465.9 158.2 L466.5 158.2 L467.1 158.2 L467.8 158.4 L468.5 158.5 L469.2 158.8 L469.9 159.1 L470.6 159.5 L471.3 160.0 L472.0 160.5 L472.7 161.1 L473.3 161.8 L474.0 162.6 L474.7 163.4 L475.3 164.3 L475.9 165.2 L476.5 166.1 L477.0 167.0 L477.5 167.9 L477.9 168.9 L478.3 170.0 L478.6 171.0 L478.9 172.0 L479.1 173.1 L479.3 174.1 L479.5 175.0 L479.6 175.9 L479.6 176.9 L479.5 177.8 L479.4 178.8 L479.3 179.6 L479.2 180.4 L479.1 181.0 L479.0 181.5"/>
<ellipse cx="548.3" cy="211.3" rx="10.2" ry="16.4" transform="rotate(-16 548.3 211.3)" stroke-width="1.7"/>
<ellipse cx="547.6" cy="212" rx="7.4" ry="13.2" transform="rotate(-16 547.6 212)"/>
<path d="M547.6 212 L555.1 212.9 M547.6 212 L555.4 215.8 M547.6 212 L551.7 224.1 M547.6 212 L550.0 224.5 M547.6 212 L542.6 218.6 M547.6 212 L541.3 215.9 M547.6 212 L540.4 204.0 M547.6 212 L541.3 202.0 M547.6 212 L548.2 200.4 M547.6 212 L550.0 201.9" stroke-width="0.8"/>
<path d="M534.5 205.0 L534.6 204.4 L534.7 203.6 L534.8 202.6 L534.9 201.5 L535.1 200.4 L535.3 199.3 L535.6 198.3 L536.0 197.5 L536.4 196.8 L537.0 196.1 L537.5 195.5 L538.2 195.0 L538.8 194.5 L539.5 194.0 L540.3 193.6 L541.0 193.3 L541.8 193.0 L542.6 192.7 L543.4 192.5 L544.3 192.3 L545.2 192.2 L546.1 192.2 L547.1 192.3 L548.0 192.6 L549.0 193.0 L550.0 193.5 L551.0 194.1 L552.1 194.8 L553.1 195.7 L554.1 196.5 L555.0 197.5 L555.9 198.5 L556.7 199.6 L557.4 200.8 L558.1 202.1 L558.7 203.4 L559.3 204.8 L559.8 206.2 L560.3 207.6 L560.8 209.0 L561.2 210.4 L561.6 211.9 L562.0 213.4 L562.4 214.9 L562.6 216.4 L562.8 217.8 L562.9 219.1 L562.8 220.2 L562.6 221.2 L562.3 222.0 L561.9 222.8 L561.4 223.4 L560.8 224.0 L560.2 224.5 L559.5 225.0 L558.8 225.5 L558.0 225.9 L556.9 226.3 L555.8 226.6 L554.6 226.8 L553.5 227.0 L552.5 227.2 L551.6 227.4 L551.0 227.5"/>
<path d="M574.9 193.6 L575.0 193.2 L575.0 192.8 L575.2 192.4 L575.4 192.1 L575.7 191.9 L576.1 191.7 L576.7 191.5 L577.5 191.3 L578.5 191.1 L579.8 191.0 L581.2 190.9 L582.7 190.8 L584.3 190.8 L586.0 190.8 L587.5 190.9 L589.0 191.0 L590.5 191.2 L592.0 191.5 L593.6 191.8 L595.2 192.1 L596.6 192.5 L598.0 192.9 L599.1 193.3 L600.0 193.7 L600.6 194.1 L601.0 194.5 L601.2 194.9 L601.3 195.3 L601.2 195.7 L601.1 196.1 L601.0 196.5 L600.8 196.9 L600.6 197.3 L600.4 197.8 L600.1 198.2 L599.7 198.7 L599.3 199.1 L598.8 199.5 L598.2 199.9 L597.5 200.2 L596.7 200.5 L595.7 200.7 L594.7 200.9 L593.6 201.0 L592.4 201.1 L591.3 201.2 L590.1 201.3 L589.0 201.4 L587.9 201.5 L586.7 201.5 L585.6 201.5 L584.4 201.5 L583.3 201.5 L582.2 201.4 L581.2 201.3 L580.4 201.2 L579.7 201.0 L579.1 200.8 L578.6 200.6 L578.1 200.3 L577.7 200.0 L577.4 199.6 L577.0 199.2 L576.7 198.8 L576.4 198.3 L576.0 197.6 L575.7 196.9 L575.4 196.2 L575.2 195.5 L575.0 194.8 L574.9 194.1 Z"/>
<path d="M570.6 179.5 L571.0 179.7 L571.4 179.9 L572.0 180.2 L572.6 180.5 L573.3 180.9 L574.0 181.3 L574.7 181.6 L575.5 182.0 L576.3 182.4 L577.2 182.8 L578.1 183.2 L579.1 183.6 L580.0 184.0 L581.0 184.5 L581.9 184.9 L582.8 185.3 L583.7 185.7 L584.5 186.1 L585.4 186.5 L586.3 186.9 L587.1 187.2 L587.8 187.6 L588.5 188.0 L589.0 188.4 L589.4 188.8 L589.7 189.2 L590.0 189.7 L590.1 190.1 L590.3 190.6 L590.3 190.9 L590.4 191.3 L590.5 191.5"/>
<path d="M592.6 189.0 L594.3 188.5 L596.5 187.8 L599.3 187.0 L602.2 186.1 L605.3 185.1 L608.3 184.1 L611.1 183.1 L613.4 182.2 L615.4 181.2 L617.4 180.1 L619.2 179.0 L620.8 177.8 L622.4 176.7 L623.7 175.7 L624.8 174.9 L625.7 174.3"/>
<path d="M603.6 191.4 L604.8 190.9 L606.4 190.3 L608.3 189.6 L610.4 188.7 L612.5 187.9 L614.7 187.0 L616.6 186.1 L618.3 185.3 L619.8 184.5 L621.2 183.6 L622.6 182.7 L623.8 181.9 L625.0 181.0 L626.0 180.3 L626.8 179.7 L627.5 179.2"/>
<path d="M592.6 201.8 L592.6 202.1 L592.5 202.6 L592.4 203.2 L592.3 203.9 L592.4 204.5 L592.6 205.0 L593.1 205.4 L593.9 205.5 L595.1 205.4 L596.7 205.2 L598.5 204.8 L600.5 204.3 L602.6 203.7 L604.7 203.1 L606.7 202.5 L608.5 201.8 L610.2 201.1 L611.9 200.3 L613.5 199.5 L615.1 198.6 L616.7 197.7 L618.2 196.8 L619.5 196.0 L620.8 195.1 L622.0 194.2 L623.1 193.3 L624.1 192.3 L625.1 191.3 L625.9 190.4 L626.7 189.6 L627.3 188.9 L627.8 188.4"/>
<path d="M581.0 205.5 L581.6 205.7 L582.3 206.0 L583.2 206.4 L584.2 206.7 L585.3 207.1 L586.5 207.5 L587.7 207.7 L589.0 207.9 L590.3 208.0 L591.8 208.0 L593.3 208.1 L594.8 208.0 L596.4 207.9 L598.1 207.8 L599.6 207.6 L601.2 207.3 L602.7 207.0 L604.2 206.6 L605.8 206.1 L607.3 205.6 L608.8 205.1 L610.3 204.5 L611.9 203.8 L613.4 203.0 L615.0 202.1 L616.7 201.1 L618.4 200.1 L620.1 198.9 L621.8 197.8 L623.3 196.7 L624.6 195.5 L625.7 194.5 L626.5 193.5 L627.2 192.4 L627.7 191.3 L628.0 190.2 L628.3 189.2 L628.5 188.3 L628.6 187.6 L628.8 187.0"/>
<path d="M566.3 214.1 L567.1 214.3 L568.2 214.6 L569.5 214.9 L570.9 215.3 L572.4 215.6 L573.9 216.0 L575.4 216.3 L576.7 216.5 L578.0 216.7 L579.3 216.8 L580.6 216.9 L582.0 216.9 L583.2 217.0 L584.3 217.0 L585.2 217.1 L585.9 217.1"/>
<path d="M591.4 218.3 L592.3 218.1 L593.5 217.8 L595.0 217.6 L596.6 217.2 L598.3 216.8 L600.1 216.4 L601.9 215.9 L603.6 215.3 L605.4 214.6 L607.3 213.7 L609.4 212.8 L611.4 211.8 L613.4 210.8 L615.1 209.9 L616.6 209.1 L617.7 208.6"/>
<path d="M553.5 186.5 L571.2 192.6"/>
<path d="M553.5 159.9 L587.1 148 L611 164.8 L611.0 164.8 L610.3 165.4 L609.3 166.3 L608.1 167.3 L606.9 168.4 L605.5 169.6 L604.0 170.8 L602.6 171.8 L601.2 172.7 L599.8 173.5 L598.3 174.2 L596.8 174.9 L595.3 175.5 L593.7 176.1 L592.1 176.7 L590.5 177.2 L589.0 177.6 L587.4 178.0 L585.8 178.3 L584.1 178.6 L582.5 178.9 L580.9 179.1 L579.3 179.2 L577.9 179.4 L576.7 179.5 L575.6 179.6 L574.6 179.6 L573.7 179.6 L572.9 179.6 L572.2 179.6 L571.6 179.5 L571.0 179.5 L570.6 179.5 L553.5 159.9"/>
<path d="M488.6 157.2 C490 155.5 493.2 155.8 493.4 158 C493.6 160.5 491.5 162 489.3 161.5 Z" stroke-width="1.4"/>
<path d="M477.5 163.6 L486.7 165.4"/>
<ellipse cx="506.9" cy="172.1" rx="2.2" ry="0.9" transform="rotate(18 506.9 172.1)"/>
<path d="M575.5 118 C565 119 558 128 556.2 144.5" stroke-width="1.1"/>
<ellipse cx="635.3" cy="414.4" rx="9.4" ry="15.4" transform="rotate(32 635.3 414.4)" stroke-width="1.5"/>
<ellipse cx="640.3" cy="411.8" rx="9.4" ry="15.4" transform="rotate(32 640.3 411.8)" stroke-width="1.5" fill="#fff"/>
<ellipse cx="639.3" cy="412.8" rx="5.3" ry="9.4" transform="rotate(32 639.3 412.8)"/>
<path d="M485 367.2 L592.2 287.6 L660.1 332 L552.3 410 Z" fill="#fff"/>
<path d="M552.3 410 V467.7 L660.1 389.5 V332 Z" fill="#fff"/>
<path d="M485 367.2 V385.6"/>
<path d="M457.5 409.5 L485 385.8 L490.5 381.3 Q496 377.5 503.4 382.9 L542 411.3 L542.0 411.3 L542.4 412.3 L543.1 413.5 L543.8 415.0 L544.6 416.7 L545.4 418.6 L546.2 420.6 L546.9 422.8 L547.5 425.1 L548.0 427.7 L548.4 430.6 L548.8 433.8 L549.2 437.1 L549.5 440.3 L549.8 443.5 L550.1 446.4 L550.3 448.9 L550.5 451.1 L550.7 453.1 L550.9 454.8 L551.0 456.5 L551.1 458.0 L551.2 459.3 L551.2 460.6 L551.3 461.8 L551.3 462.9 L551.4 463.9 L551.4 464.8 L551.4 465.6 L551.3 466.2 L551.3 466.8 L551.3 467.3 L551.3 467.7"/>
<path d="M457.8 410.6 L510.8 442.5 L542 413"/>
<path d="M457.5 409.5 L457.0 410.4 L456.4 411.6 L455.6 413.0 L454.7 414.6 L453.8 416.3 L452.9 418.0 L452.2 419.6 L451.5 421.0 L451.0 422.3 L450.5 423.5 L450.1 424.6 L449.8 425.7 L449.4 426.8 L449.1 428.1 L448.8 429.4 L448.4 431.0 L448.0 432.8 L447.6 434.7 L447.2 436.8 L446.9 439.0 L446.5 441.2 L446.2 443.3 L445.9 445.5 L445.6 447.5 L445.4 449.5 L445.1 451.4 L444.9 453.4 L444.7 455.3 L444.6 457.2 L444.6 459.0 L444.6 460.6 L444.7 462.2 L444.8 463.6 L445.0 464.8 L445.1 465.9 L445.3 466.9 L445.7 467.9 L446.3 469.0 L447.2 470.1 L448.4 471.4 L450.0 472.8 L451.9 474.4 L454.2 476.1 L456.6 477.7 L459.2 479.4 L461.8 481.1 L464.3 482.8 L466.7 484.3 L469.0 485.8 L471.4 487.3 L473.8 488.8 L476.2 490.2 L478.6 491.6 L480.9 492.9 L483.1 494.2 L485.1 495.3 L487.0 496.4 L488.9 497.4 L490.6 498.4 L492.3 499.2 L493.9 500.0 L495.3 500.7 L496.7 501.3 L497.9 501.7 L498.8 502.0 L499.5 502.2 L499.9 502.3 L500.3 502.2 L500.7 502.1 L501.3 501.8 L502.1 501.4 L503.4 500.8 L505.2 500.0 L507.5 498.9 L510.2 497.6 L512.9 496.1 L515.7 494.7 L518.2 493.4 L520.3 492.4 L521.8 491.6"/>
<path d="M459.0 412.5 L458.5 413.4 L457.7 414.6 L456.9 416.0 L455.9 417.6 L454.9 419.3 L454.0 421.0 L453.2 422.6 L452.5 424.0 L452.0 425.3 L451.5 426.6 L451.1 427.9 L450.8 429.2 L450.5 430.4 L450.3 431.6 L450.0 432.8 L449.8 434.0 L449.5 435.2 L449.2 436.3 L449.0 437.5 L448.7 438.6 L448.5 439.7 L448.4 440.8 L448.4 441.9 L448.6 443.0 L449.0 444.1 L449.6 445.3 L450.3 446.5 L451.2 447.7 L452.0 448.8 L452.8 449.7 L453.4 450.6 L453.9 451.2"/>
<path d="M453.9 451.2 L455.3 451.9 L457.1 452.9 L459.3 454.0 L461.8 455.3 L464.4 456.6 L467.0 458.0 L469.6 459.3 L472.0 460.5 L474.3 461.7 L476.8 462.9 L479.2 464.2 L481.6 465.4 L484.0 466.6 L486.3 467.7 L488.5 468.7 L490.6 469.6 L492.5 470.4 L494.4 471.0 L496.2 471.6 L497.9 472.1 L499.5 472.5 L501.0 472.8 L502.3 473.0 L503.4 473.2 L504.3 473.2 L505.1 473.1 L505.6 472.8 L506.0 472.5 L506.4 472.2 L506.6 471.9 L506.9 471.6 L507.1 471.4"/>
<path d="M510.8 442.5 L510.6 443.6 L510.3 445.0 L509.9 446.8 L509.5 448.7 L509.0 450.7 L508.6 452.8 L508.3 454.8 L508.0 456.7 L507.8 458.6 L507.6 460.7 L507.5 462.8 L507.4 464.9 L507.3 466.9 L507.2 468.7 L507.2 470.3 L507.1 471.4"/>
<path d="M446.5 454.5 L447.2 455.0 L448.0 455.6 L449.0 456.4 L450.1 457.2 L451.3 458.2 L452.7 459.2 L454.1 460.2 L455.7 461.3 L457.4 462.4 L459.3 463.7 L461.3 465.0 L463.4 466.4 L465.5 467.8 L467.7 469.2 L469.9 470.6 L472.0 472.0 L474.2 473.5 L476.4 475.0 L478.8 476.6 L481.1 478.3 L483.3 479.8 L485.4 481.2 L487.2 482.4 L488.7 483.3 L489.8 483.9 L490.5 484.3 L490.9 484.6 L491.1 484.6 L491.4 484.6 L491.8 484.5 L492.3 484.4 L493.3 484.3 L494.7 484.2 L496.5 483.9 L498.6 483.6 L500.7 483.3 L502.9 483.0 L504.8 482.7 L506.4 482.4 L507.6 482.2"/>
<path d="M445.2 461.0 L446.0 461.4 L447.0 461.9 L448.1 462.6 L449.4 463.3 L450.9 464.0 L452.4 464.9 L454.0 465.8 L455.7 466.8 L457.5 467.9 L459.4 469.1 L461.4 470.4 L463.6 471.7 L465.7 473.1 L467.9 474.4 L470.0 475.7 L472.0 477.0 L474.0 478.2 L476.1 479.5 L478.1 480.8 L480.2 482.0 L482.1 483.2 L483.9 484.3 L485.5 485.3 L486.9 486.1 L488.0 486.8 L488.9 487.3 L489.6 487.7 L490.1 488.1 L490.6 488.3 L490.9 488.5 L491.2 488.7 L491.5 488.9"/>
<path d="M447.8 455.5 L449.5 463.5 M455.7 461.3 L455.7 466.8"/>
<path d="M491.5 486.1 L493.3 484.3 M507.6 482.2 L508.3 491.6 L501.6 494.6 L491.5 488.9"/>
<path d="M508.9 471.4 V492.5 L502.5 496.4 V501"/>
<path d="M512.2 443.9 L510.3 467.7"/>
<path d="M514.5 442.0 L515.3 441.0 L516.3 440.1 L517.4 439.2 L518.7 438.4 L520.0 437.7 L521.4 436.9 L522.7 436.2 L524.0 435.5 L525.3 434.8 L526.8 434.0 L528.2 433.2 L529.7 432.4 L531.1 431.8 L532.5 431.2 L533.6 430.8 L534.6 430.6 L535.3 430.6 L535.9 430.6 L536.4 430.8 L536.7 431.2 L536.9 431.6 L537.1 432.2 L537.3 432.9 L537.4 433.8 L537.5 434.9 L537.7 436.2 L537.7 437.7 L537.8 439.4 L537.7 441.0 L537.5 442.7 L537.2 444.3 L536.8 445.7 L536.2 447.0 L535.4 448.4 L534.4 449.8 L533.4 451.0 L532.3 452.2 L531.2 453.3 L530.1 454.3 L529.1 455.0 L528.1 455.5 L527.1 455.6 L526.1 455.6 L525.0 455.5 L524.1 455.3 L523.2 455.3 L522.4 455.4 L521.8 455.8 L521.4 456.5 L521.3 457.5 L521.2 458.6 L521.3 459.8 L521.4 461.1 L521.4 462.2 L521.2 463.3 L520.9 464.1 L520.3 464.8 L519.6 465.3 L518.7 465.8 L517.7 466.2 L516.8 466.5 L515.9 466.7 L515.1 466.8 L514.5 466.8 L514.1 466.6 L513.7 466.4 L513.5 466.0 L513.3 465.5 L513.2 464.9 L513.1 464.3 L513.1 463.5 L513.0 462.6 L512.9 461.6 L512.9 460.4 L512.9 459.1 L512.9 457.7 L513.0 456.2 L513.0 454.8 L513.1 453.3 L513.2 452.0 L513.3 450.7 L513.3 449.4 L513.2 448.1 L513.3 446.7 L513.4 445.5 L513.6 444.2 L513.9 443.1 Z"/>
<path d="M521.8 456.7 H529.1 V466.8 L523.6 468.7 L518.1 472.3 L510.8 473.2 V468.7 L520.9 466"/>
<path d="M508.9 492.5 L524 483.5"/>
<ellipse cx="536.2" cy="482" rx="12" ry="17.5" transform="rotate(25 536.2 482)" stroke-width="1.5"/>
<ellipse cx="537.3" cy="483" rx="7.6" ry="11.4" transform="rotate(25 537.3 483)"/>
<ellipse cx="537.6" cy="483.2" rx="5" ry="8" transform="rotate(25 537.6 483.2)"/>
<path d="M524.0 483.5 L524.1 482.8 L524.2 481.7 L524.3 480.5 L524.4 479.2 L524.6 477.8 L524.8 476.5 L525.1 475.2 L525.5 474.0 L526.0 472.9 L526.5 471.9 L527.2 470.9 L527.8 469.9 L528.6 469.0 L529.4 468.1 L530.2 467.3 L531.0 466.5 L531.9 465.8 L532.8 465.1 L533.9 464.5 L534.9 464.0 L536.0 463.5 L537.0 463.1 L538.0 462.7 L539.0 462.5 L539.9 462.4 L540.9 462.3 L541.8 462.4 L542.7 462.5 L543.5 462.7 L544.4 462.9 L545.2 463.2 L546.0 463.5 L546.8 463.9 L547.6 464.4 L548.3 465.0 L549.1 465.7 L549.8 466.3 L550.4 466.9 L550.9 467.4 L551.3 467.7"/>
<path d="M487.6 343.3 V358.2 L492.3 360.3 V345.5 Z M487.6 343.3 L492.3 340.3 L496.5 342 L492.3 345.5 M494.6 344.9 V355.6 M497.8 341.2 V355.6 M499.7 342 V354.4 M492.3 360.3 L497.8 355.6 M492.3 339 L497.8 336.1 L515.5 343.3 M499.7 348.5 L505 351"/>
<path d="M660.5 348.5 L682 333.5" stroke-dasharray="4 3"/>
<g stroke-width="1.5">
<path d="M685.5 310.8 L701.8 302.7 L721.2 308.8 L698.8 319 Z"/>
<path d="M685.5 310.8 L685.3 311.5 L684.9 312.5 L684.5 313.6 L684.1 314.9 L683.6 316.2 L683.2 317.6 L682.8 318.8 L682.5 320.0 L682.2 321.1 L682.0 322.2 L681.8 323.4 L681.6 324.5 L681.5 325.5 L681.4 326.5 L681.3 327.4 L681.4 328.2 L681.5 328.8 L681.5 329.3 L681.6 329.7 L681.8 330.1 L682.0 330.4 L682.5 330.7 L683.1 331.0 L684.0 331.5 L685.3 332.1 L687.0 332.7 L689.0 333.4 L691.1 334.1 L693.1 334.8 L695.1 335.4 L696.7 335.9 L697.8 336.3"/>
<path d="M698.8 319 C697 325 696.8 331 697.8 336.3"/>
<path d="M721.2 308.8 C722.5 312 723.5 316 723.3 321"/>
<path d="M697.8 336.3 L718 326.2"/>
<circle cx="722.2" cy="327.2" r="4.4" stroke-width="1.3" fill="#fff"/><circle cx="722.2" cy="327.2" r="2.4"/><circle cx="722.2" cy="327.2" r="0.8"/>
<circle cx="704" cy="339.8" r="4.4" stroke-width="1.3" fill="#fff"/><circle cx="704" cy="339.8" r="2.4"/><circle cx="704" cy="339.8" r="0.8"/>
<path d="M705.4 307.5 V290.6 M708.6 308.3 V289.8 M705.4 307.5 C706 309 708 309.3 708.6 308.3"/>
<path d="M701.8 285.5 L710 283.2 L711.3 284.5 V288 L703.2 290.4 L701.8 289 Z M701.8 285.5 L703.2 287 L711.3 284.5 M703.2 287 V290.4"/>
</g>
<path d="M712.2 251.7 V303" stroke-width="1.1"/>
<path d="M712.2 251.7 C740 253 770 276 773.7 306.6 L722 309" stroke-width="1.1"/>
<path d="M721.5 309.5 C729 305 734.5 300 733.5 294 C732.5 288 724 284.5 712.2 280 L660 254.5"/>
<path d="M656.2 252.6 L664.5 253.2 L661 259.3 Z" fill="#333" stroke-width="0.6"/>
<path d="M757 317.5 C757 309 750 304.5 738 304" stroke-width="1.1"/>
<path d="M733.5 304 L741 300.5 L741 307.5 Z" fill="#333" stroke-width="0.6"/>
<path d="M711 331.5 C716 337 713.5 347 716 354 C717.5 358.5 719.5 361 721.5 363" stroke-width="1.1"/>
<path d="M641.5 456.3 C630 461 617 459 607 451.5" stroke-width="1.1"/>
<path d="M603 448.4 L611.5 449.5 L606.8 455.8 Z" fill="#333" stroke-width="0.6"/>
<path d="M132.3 65.2 C150 66.5 168 75 181 86" stroke-width="1.3"/>
<path d="M184.3 89.2 L177 87.6 L181.3 82.6 Z" fill="#333" stroke-width="0.6"/>
</g>
<defs><filter id="soft" x="-5%" y="-5%" width="110%" height="110%"><feGaussianBlur stdDeviation="0.3"/></filter></defs>
<g font-family="Liberation Sans, sans-serif" fill="#333" stroke="none" filter="url(#soft)">
<text stroke="#333" stroke-width="0.25" x="112.0" y="68.4" font-size="14.2" textLength="17.5" lengthAdjust="spacingAndGlyphs">185</text>
<text stroke="#333" stroke-width="0.25" x="395.4" y="157.9" font-size="14.2" textLength="27.4" lengthAdjust="spacingAndGlyphs">160-2</text>
<text stroke="#333" stroke-width="0.25" x="577.8" y="124.0" font-size="14.2" textLength="27.5" lengthAdjust="spacingAndGlyphs">160-1</text>
<text stroke="#333" stroke-width="0.25" x="752.2" y="332.1" font-size="14.2" textLength="16.6" lengthAdjust="spacingAndGlyphs">150</text>
<text stroke="#333" stroke-width="0.25" x="723.8" y="372.0" font-size="14.2" textLength="16.4" lengthAdjust="spacingAndGlyphs">140</text>
<text stroke="#333" stroke-width="0.25" x="643.6" y="457.2" font-size="14.2" textLength="16.9" lengthAdjust="spacingAndGlyphs">110</text>
<text stroke="#333" stroke-width="0.25" x="168.0" y="425.1" font-size="14.2" textLength="7.6" lengthAdjust="spacingAndGlyphs">A</text>
<text stroke="#333" stroke-width="0.25" x="176.0" y="430.4" font-size="11" textLength="4.5" lengthAdjust="spacingAndGlyphs">1</text>
<text x="385.9" y="528.9" font-size="28.3" font-weight="bold" fill="#222" textLength="50.5" lengthAdjust="spacingAndGlyphs">FIG.</text>
<text x="444.6" y="528.9" font-size="28.3" font-weight="bold" fill="#222" textLength="35.2" lengthAdjust="spacingAndGlyphs">1D</text>
</g>
</svg>
</body></html>
